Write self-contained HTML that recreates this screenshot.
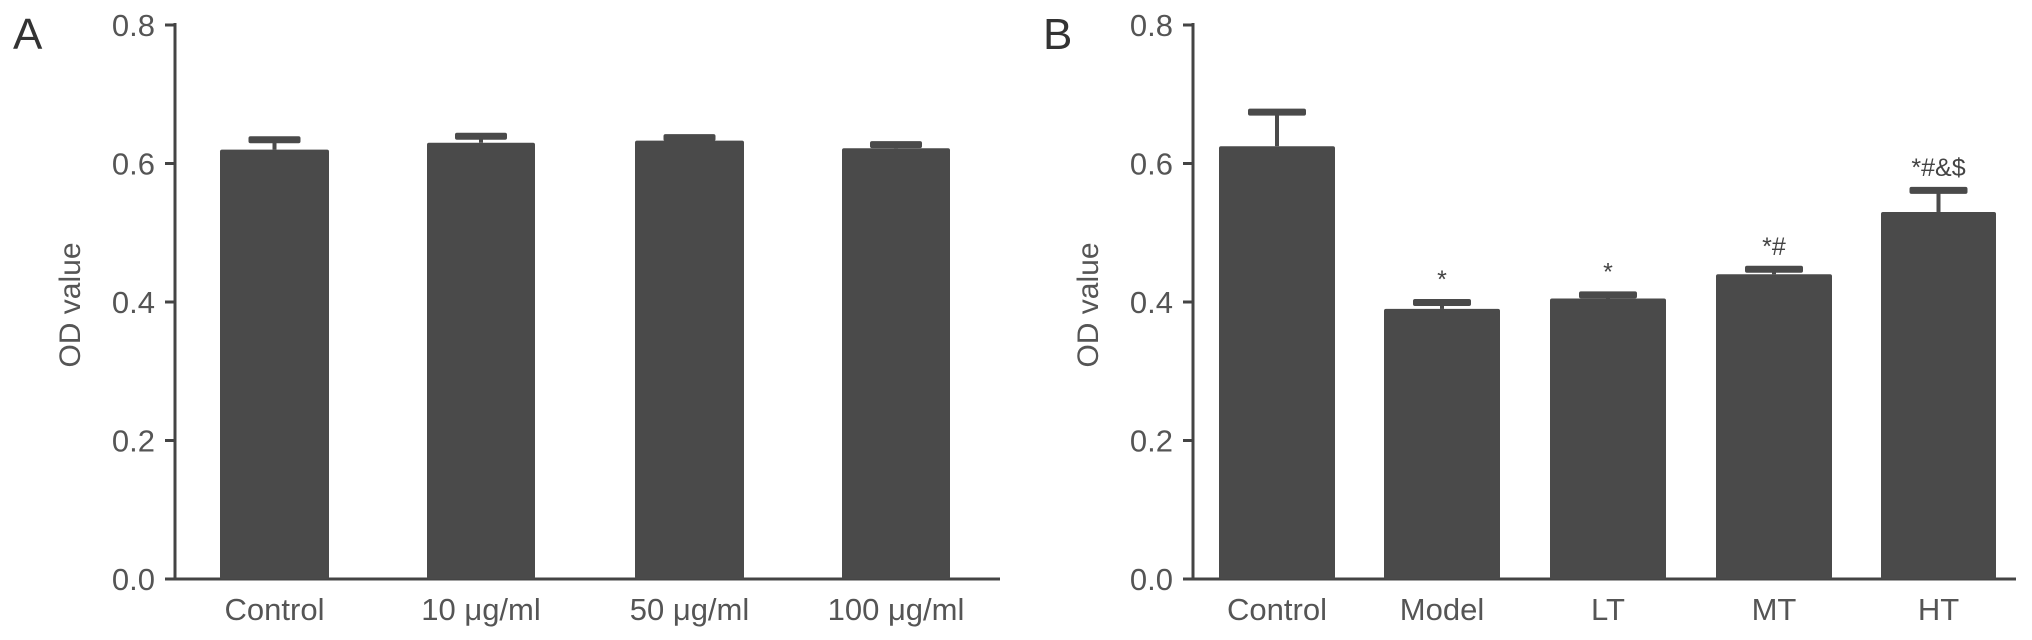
<!DOCTYPE html>
<html><head><meta charset="utf-8"><style>
html,body{margin:0;padding:0;background:#fff;}
svg{display:block;font-family:"Liberation Sans",sans-serif;}
</style></head><body>
<svg id="chart" width="2032" height="640" viewBox="0 0 2032 640"></svg>
<script>
const catsA = ["Control","10 μg/ml","50 μg/ml","100 μg/ml"];
const valsA = [0.620,0.630,0.633,0.622];
const errA = [0.015,0.010,0.005,0.006];
const catsB = ["Control","Model","LT","MT","HT"];
const valsB = [0.625,0.390,0.405,0.440,0.530];
const errB = [0.050,0.010,0.006,0.008,0.032];
const marksB = ["","*","*","*#","*#&$"];
const ticks = [0.0,0.2,0.4,0.6,0.8];
const tickLabels = ["0.0","0.2","0.4","0.6","0.8"];

const svg = document.getElementById('chart');
const NS = "http://www.w3.org/2000/svg";
function mk(tag, attrs, parent){const e=document.createElementNS(NS,tag);for(const k in attrs)e.setAttribute(k,attrs[k]);(parent||svg).appendChild(e);return e;}
const Y0=579, Y1=25;
function y(v){return Y0-(v/0.8)*(Y0-Y1);}

function panel(id, letter, lx, axisX, axisEnd, bars, cats, vals, errs, marks, capW){
  const g=mk('g',{});
  
  
  const L=mk('text',{x:lx,y:49,'font-size':44,fill:'#333'},g);L.textContent=letter;
  
  
  const ya=mk('line',{x1:axisX,y1:Y1-2,x2:axisX,y2:Y0+1.5,stroke:'#444','stroke-width':3},g);
  
  
  const xa=mk('line',{x1:axisX-1.5,y1:Y0,x2:axisEnd,y2:Y0,stroke:'#444','stroke-width':3},g);
  
  
  ticks.forEach((t,i)=>{
    const tl=mk('line',{x1:axisX-10,y1:y(t),x2:axisX,y2:y(t),stroke:'#444','stroke-width':3},g);
    
    
    const tx=mk('text',{x:axisX-20,y:y(t)+11,'font-size':31,fill:'#555','text-anchor':'end'},g);
    tx.textContent=tickLabels[i];
    
    
  });
  const yt=mk('text',{x:0,y:0,'font-size':30,fill:'#555','text-anchor':'middle',transform:`translate(${axisX-95},305) rotate(-90)`},g);
  yt.textContent='OD value';
  
  
  cats.forEach((c,i)=>{
    const [x0,x1]=bars[i];const cx=(x0+x1)/2;
    const top=y(vals[i]), et=y(vals[i]+errs[i]);
    const ev=mk('line',{x1:cx,y1:top,x2:cx,y2:et,stroke:'#4a4a4a','stroke-width':4},g);
    
    
    const cap=mk('rect',{x:cx-capW/2,y:et-3,width:capW,height:7,fill:'#4a4a4a',rx:2},g);
    
    
    const b=mk('rect',{x:x0,y:top,width:x1-x0,height:Y0-top,fill:'#4a4a4a',rx:2},g);
    
    
    const lb=mk('text',{x:cx,y:620,'font-size':31,fill:'#555','text-anchor':'middle'},g);
    lb.textContent=c;
    
    
    if(marks && marks[i]){
      const m=mk('text',{x:cx,y:et-14,'font-size':25,fill:'#444','text-anchor':'middle'},g);
      m.textContent=marks[i];
      
      
    }
  });
}
panel('a','A',13,175,1000,[[220,329],[427,535],[635,744],[842,950]],catsA,valsA,errA,null,52);
panel('b','B',1043,1193,2016,[[1219,1335],[1384,1500],[1550,1666],[1716,1832],[1881,1996]],catsB,valsB,errB,marksB,58);
</script>
</body></html>
